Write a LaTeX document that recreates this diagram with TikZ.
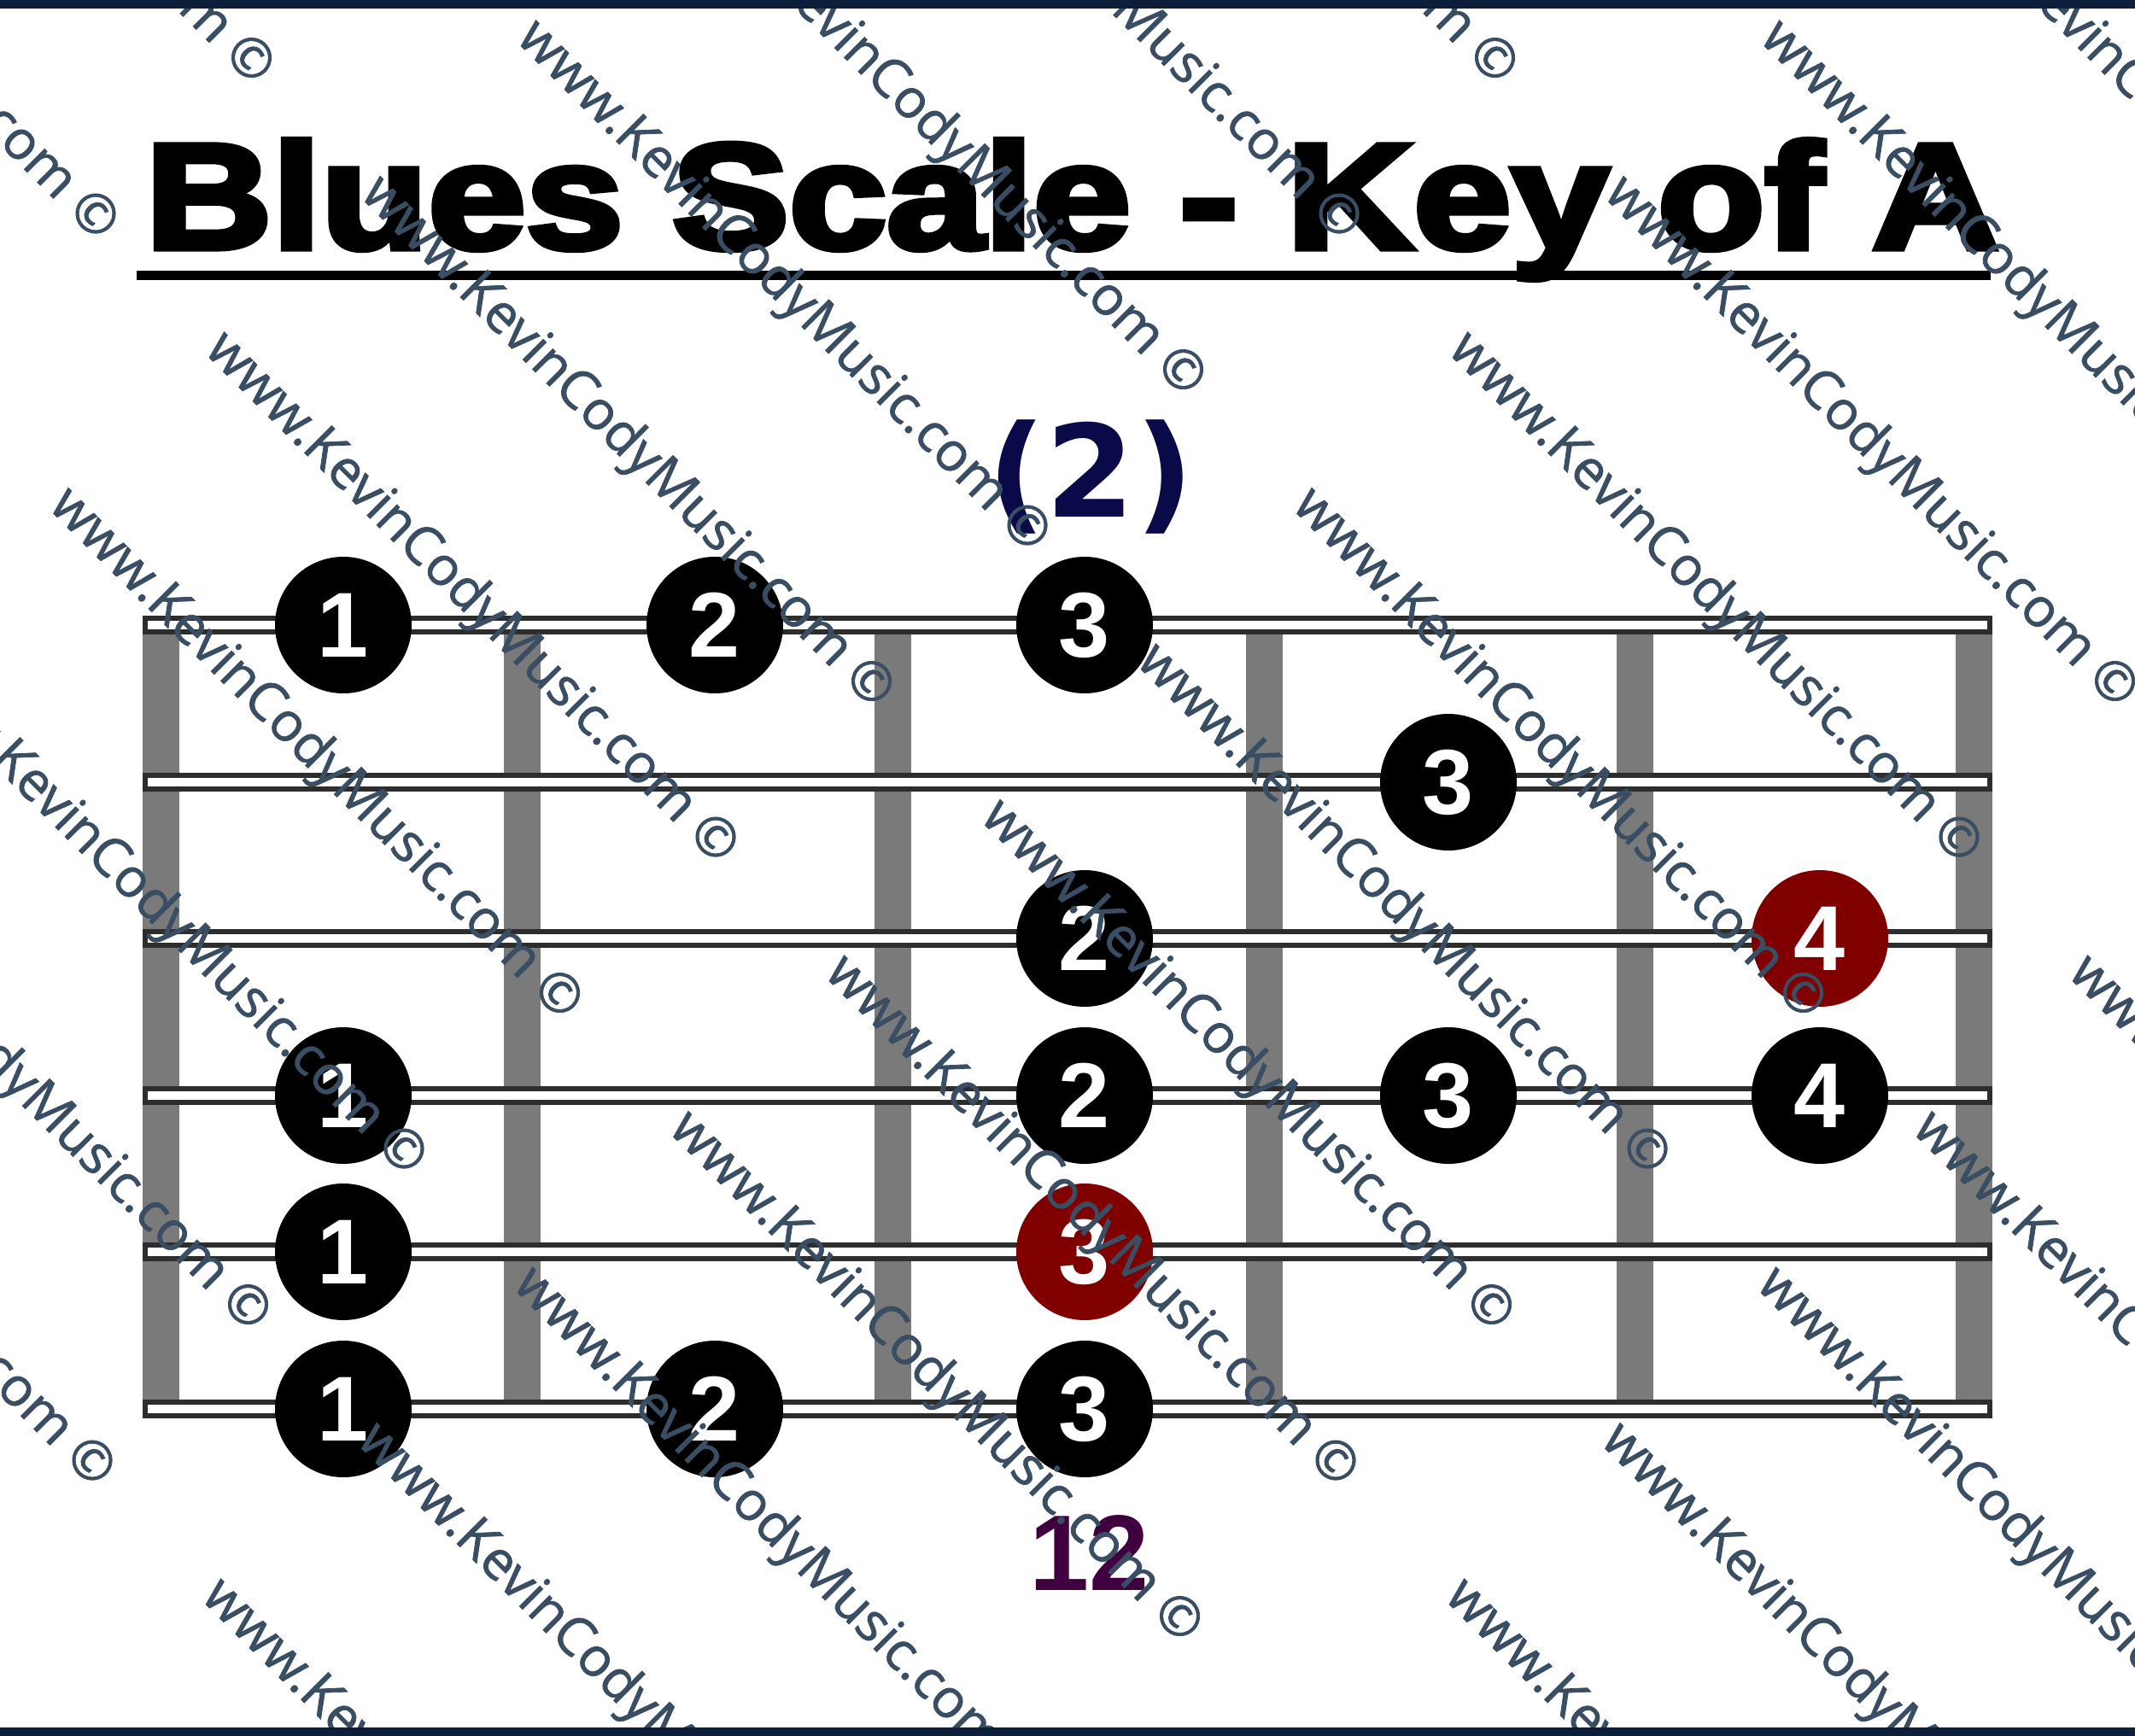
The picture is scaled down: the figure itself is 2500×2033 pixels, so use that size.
\documentclass[tikz,border=0pt]{standalone}
\usepackage{fontspec}
\setmainfont{Liberation Sans}
\newfontfamily\titlefam{Liberation Sans Bold}[FakeBold=4]
\newfontfamily\wmfam{Open Sans}[FakeBold=1.2]
\newfontfamily\parenfam{DejaVu Sans}
\definecolor{navybar}{RGB}{12,30,58}
\definecolor{wmcol}{RGB}{57,77,99}
\definecolor{fretgray}{RGB}{122,122,122}
\definecolor{stringdark}{RGB}{45,45,45}
\definecolor{dotred}{RGB}{128,0,0}
\definecolor{posnavy}{RGB}{10,10,72}
\definecolor{fretnum}{RGB}{64,0,64}
\newcommand\dotfont{\fontsize{108}{108}\selectfont\bfseries}
\tikzset{
  fingerdot/.style={circle, fill=black, minimum size=160, inner sep=0, text=white, font=\dotfont},
  reddot/.style={fingerdot, fill=dotred},
  fretbar/.style={fill=fretgray},
  guitarstring/.style={draw=stringdark, line width=6, fill=white},
  watermark/.style={text=wmcol, font=\wmfam\fontsize{63}{63}\selectfont, rotate=-45, anchor=east, inner sep=0, text height=45, text depth=0}
}
\begin{document}
\begin{tikzpicture}[x=1pt,y=-1pt]
\useasboundingbox (0,0) rectangle (2500,2033);
\fill[white] (0,0) rectangle (2500,2033);
% title
\node[anchor=base west, inner sep=0] (title) at (170,291) {\scalebox{1.168}[1]{\titlefam\fontsize{176}{176}\selectfont Blues Scale - Key of A}};
\coordinate (ul1) at (160,322.5);
\coordinate (ul2) at (2331,322.5);
\draw[line width=11] (ul1) -- (ul2);
% frets
\foreach \fx [count=\i] in {188,611,1045,1480,1914,2311.5}{
  \fill[fretbar] (\fx-21.5,732) rectangle (\fx+21.5,1650);
}
% strings
\foreach \sy [count=\i] in {732,916,1099,1283,1466,1650}{
  \draw[guitarstring] (170,\sy-8) rectangle (2330,\sy+8);
}
% dots
\node[fingerdot] (r1a) at (402,732) {1};
\node[fingerdot] (r1b) at (837,732) {2};
\node[fingerdot] (r1c) at (1270,732) {3};
\node[fingerdot] (r2d) at (1696,916) {3};
\node[fingerdot] (r3c) at (1270,1099) {2};
\node[reddot] (r3e) at (2131,1099) {4};
\node[fingerdot] (r4a) at (402,1283) {1};
\node[fingerdot] (r4c) at (1270,1283) {2};
\node[fingerdot] (r4d) at (1696,1283) {3};
\node[fingerdot] (r4e) at (2131,1283) {4};
\node[fingerdot] (r5a) at (402,1466) {1};
\node[reddot] (r5c) at (1270,1466) {3};
\node[fingerdot] (r6a) at (402,1650) {1};
\node[fingerdot] (r6b) at (837,1650) {2};
\node[fingerdot] (r6c) at (1270,1650) {3};
% position and fret labels
\node[text=posnavy, font=\parenfam\bfseries\fontsize{150}{150}\selectfont, inner sep=0] (pos) at (1277,558) {(2)};
\node[text=fretnum, font=\bfseries\fontsize{126}{126}\selectfont, inner sep=0] (fret) at (1276,1818) {12};
% watermarks
\begin{scope}
\clip (0,10) rectangle (2500,2023);
\foreach \k in {-3,...,10}{
  \foreach \m in {-2,...,3}{
    \pgfmathsetmacro\cx{1203-182.5*\k+1456*\m+18.7}
    \pgfmathsetmacro\cy{615+182.5*\k+18.7}
    \node[watermark] (wm\k\m) at (\cx,\cy) {www.KevinCodyMusic.com ©};
  }
}
\end{scope}
% top and bottom bars
\fill[navybar] (0,0) rectangle (2500,10);
\fill[navybar] (0,2023) rectangle (2500,2033);
\end{tikzpicture}
\end{document}
